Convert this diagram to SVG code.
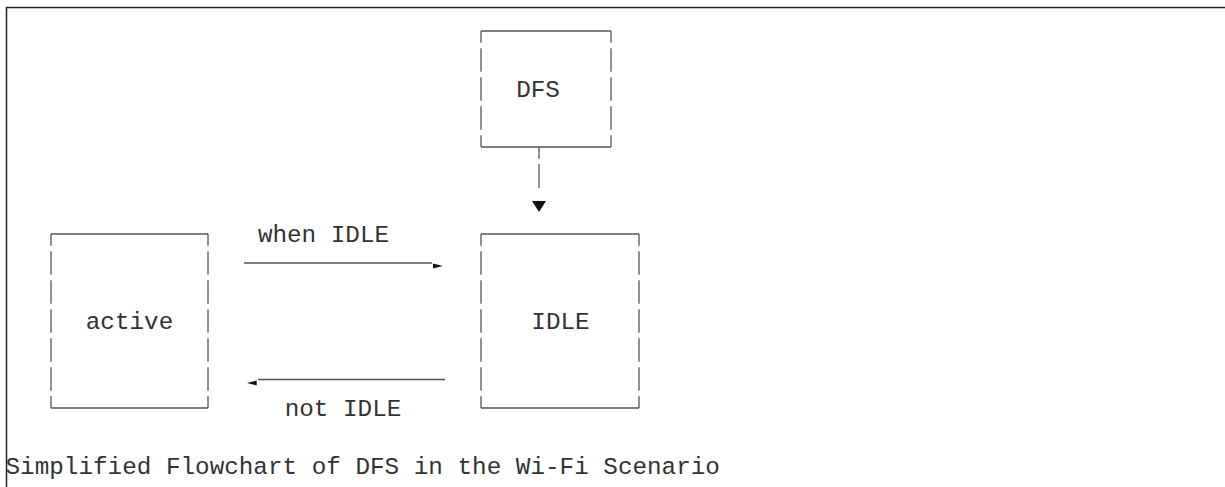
<svg xmlns="http://www.w3.org/2000/svg" width="1225" height="487" viewBox="0 0 1225 487">
<style>
text{font-family:"Liberation Mono","Courier New",monospace;font-size:24.3px;fill:#333}
.h{stroke:#555;stroke-width:1.3;fill:none}
.v{stroke:#555;stroke-width:1.3;fill:none;stroke-dasharray:23.5 5.5;stroke-dashoffset:11.75}
.head{fill:#111}
.frame{stroke:#222;stroke-width:1.5;fill:none}
</style>
<rect width="1225" height="487" fill="#fff"/>
<path class="frame" d="M6.5 487 V7.5 H1225"/>
<g id="node-dfs">
<path class="h" d="M481 31 H611 M481 147 H611"/>
<line class="v" x1="481" y1="31" x2="481" y2="147"/>
<line class="v" x1="611" y1="31" x2="611" y2="147"/>
<text x="538" y="97" text-anchor="middle">DFS</text>
</g>
<g id="node-active">
<path class="h" d="M51 234 H208 M51 408 H208"/>
<line class="v" x1="51" y1="234" x2="51" y2="408"/>
<line class="v" x1="208" y1="234" x2="208" y2="408"/>
<text x="129.5" y="329" text-anchor="middle">active</text>
</g>
<g id="node-idle">
<path class="h" d="M481 234 H639 M481 408 H639"/>
<line class="v" x1="481" y1="234" x2="481" y2="408"/>
<line class="v" x1="639" y1="234" x2="639" y2="408"/>
<text x="560.5" y="329" text-anchor="middle">IDLE</text>
</g>
<g id="connectors">
<line class="v" x1="539" y1="147" x2="539" y2="187.75"/>
<polygon class="head" points="532,201 546,201 539,212"/>
<line class="h" x1="244" y1="263" x2="432" y2="263"/>
<polygon class="head" points="433,263.6 442.7,266 433,268.4"/>
<line class="h" x1="258" y1="379.5" x2="445" y2="379.5"/>
<polygon class="head" points="256.7,380.6 247,383 256.7,385.4"/>
<text x="323.5" y="242" text-anchor="middle">when IDLE</text>
<text x="343" y="416" text-anchor="middle">not IDLE</text>
</g>
<text id="caption" x="5.5" y="474">Simplified Flowchart of DFS in the Wi-Fi Scenario</text>
</svg>
